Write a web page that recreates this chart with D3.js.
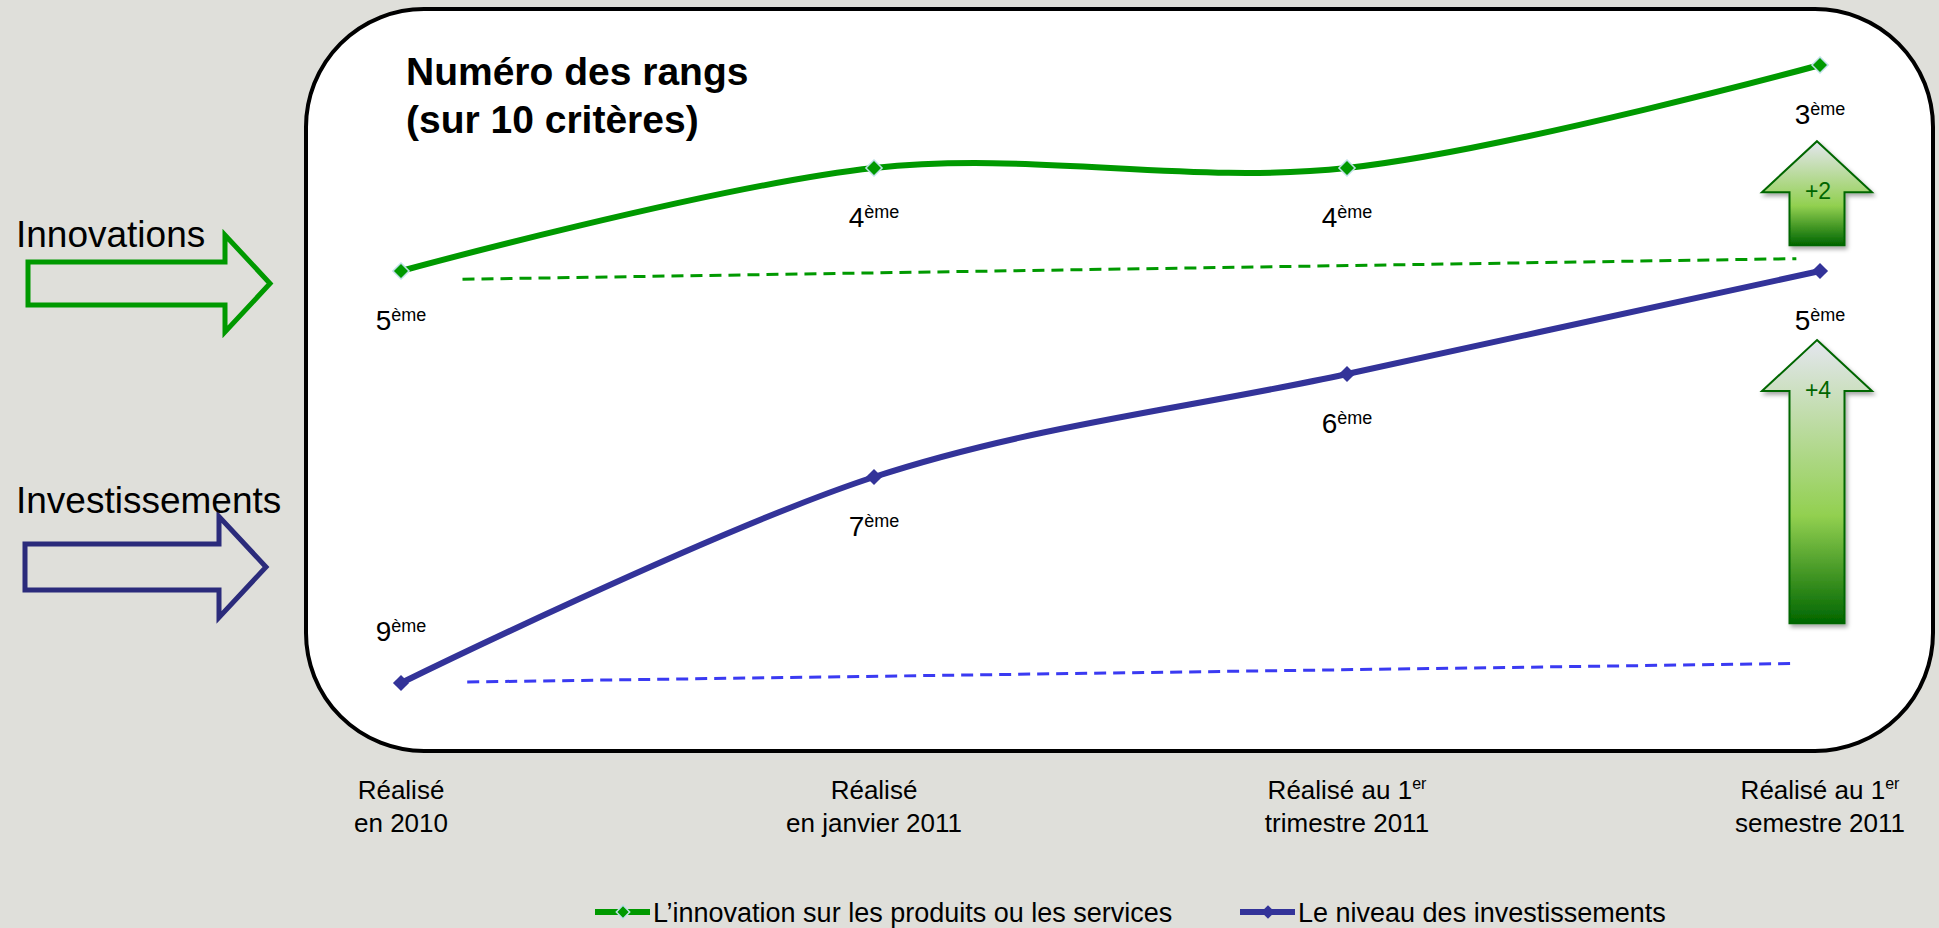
<!DOCTYPE html>
<html>
<head>
<meta charset="utf-8">
<script src="https://cdn.jsdelivr.net/npm/d3@7"></script>
<style>
  html, body { margin: 0; padding: 0; background: #dfdfda; }
  svg { display: block; }
  text { font-family: 'Liberation Sans', Arial, sans-serif; fill: #000; }
</style>
</head>
<body>
<svg id="chart" width="1939" height="928"></svg>
<script>
// categories (two lines each, ^ marks a superscript)
const categories = [
  ['Réalisé', 'en 2010'],
  ['Réalisé', 'en janvier 2011'],
  ['Réalisé au 1^er', 'trimestre 2011'],
  ['Réalisé au 1^er', 'semestre 2011']
]
const seriesNames = ["L’innovation sur les produits ou les services", 'Le niveau des investissements']
const innovationRanks = [5, 4, 4, 3]
const investmentRanks = [9, 7, 6, 5]
// dashed starting levels: [category index, rank]
const innovationBase = [[0.13, 5.08], [2.95, 4.88]]
const investmentBase = [[0.14, 8.99], [2.95, 8.81]]
// gain arrows on the last period: label, top rank, bottom rank
const gains = [
  { label: '+2', top: 3.74, bottom: 4.75 },
  { label: '+4', top: 5.67, bottom: 8.42 }
]
const sideLabels = ['Innovations', 'Investissements']

const GREEN = '#009900'
const BLUE = '#333399'

const svg = d3.select('#chart')
const x = d3.scaleLinear().domain([0, categories.length - 1]).range([401, 1820])
const y = d3.scaleLinear().domain([3, 9]).range([65, 683])

const defs = svg.append('defs')
const grad = defs.append('linearGradient')
  .attr('id', 'upGrad').attr('x1', 0).attr('y1', 0).attr('x2', 0).attr('y2', 1)
grad.append('stop').attr('offset', '0%').attr('stop-color', '#e4e6ef')
grad.append('stop').attr('offset', '62%').attr('stop-color', '#92d050')
grad.append('stop').attr('offset', '100%').attr('stop-color', '#006600')
defs.append('filter').attr('id', 'shadow')
  .attr('x', '-30%').attr('y', '-10%').attr('width', '160%').attr('height', '130%')
  .append('feDropShadow')
  .attr('dx', 2).attr('dy', 3).attr('stdDeviation', 2)
  .attr('flood-color', '#000').attr('flood-opacity', 0.35)

// rounded frame
svg.append('rect')
  .attr('x', 306).attr('y', 9).attr('width', 1627).attr('height', 742)
  .attr('rx', 118).attr('ry', 118)
  .attr('fill', '#fff').attr('stroke', '#000').attr('stroke-width', 4)

// title
const title = svg.append('text')
  .attr('x', 406).attr('y', 85)
  .style('font-size', '39px').style('font-weight', 'bold')
title.append('tspan').text('Numéro des rangs')
title.append('tspan').attr('x', 406).attr('dy', 48).text('(sur 10 critères)')

// hollow side arrows
function sideArrow (x0, xHead, xTip, yMid, bodyH, headH) {
  const b = bodyH / 2
  const h = headH / 2
  return 'M' + x0 + ',' + (yMid - b) + 'H' + xHead + 'V' + (yMid - h) +
    'L' + xTip + ',' + yMid + 'L' + xHead + ',' + (yMid + h) +
    'V' + (yMid + b) + 'H' + x0 + 'Z'
}
svg.append('path').attr('d', sideArrow(28, 225, 270, 283.5, 43, 97))
  .attr('fill', 'none').attr('stroke', GREEN).attr('stroke-width', 5)
svg.append('path').attr('d', sideArrow(25, 219, 266, 567, 46, 101))
  .attr('fill', 'none').attr('stroke', '#2b2b7b').attr('stroke-width', 5)
svg.selectAll('text.side')
  .data(sideLabels)
  .enter().append('text')
  .attr('class', 'side')
  .attr('x', 16)
  .attr('y', function (d, i) { return i === 0 ? 247 : 513 })
  .style('font-size', '37px')
  .text(function (d) { return d })

// dashed base lines
const straight = d3.line().x(function (d) { return x(d[0]) }).y(function (d) { return y(d[1]) })
svg.append('path').attr('d', straight(innovationBase))
  .attr('fill', 'none').attr('stroke', GREEN).attr('stroke-width', 3).attr('stroke-dasharray', '12,7')
svg.append('path').attr('d', straight(investmentBase))
  .attr('fill', 'none').attr('stroke', '#3a3af2').attr('stroke-width', 3).attr('stroke-dasharray', '12,7')

// gain arrows
function upArrow (cx, yTop, yBottom) {
  const headBase = yTop + 51
  return 'M' + cx + ',' + yTop + 'L' + (cx + 55) + ',' + headBase + 'H' + (cx + 27.5) +
    'V' + yBottom + 'H' + (cx - 27.5) + 'V' + headBase + 'H' + (cx - 55) + 'Z'
}
const gainG = svg.selectAll('g.gain')
  .data(gains)
  .enter().append('g')
  .attr('class', 'gain')
gainG.append('path')
  .attr('d', function (d) { return upArrow(x(3) - 3, y(d.top), y(d.bottom)) })
  .attr('fill', 'url(#upGrad)').attr('stroke', '#006600').attr('stroke-width', 2)
  .attr('filter', 'url(#shadow)')
gainG.append('text')
  .attr('x', x(3) - 2)
  .attr('y', function (d) { return y(d.top) + 58 })
  .attr('text-anchor', 'middle')
  .style('font-size', '23px').style('fill', '#006600')
  .text(function (d) { return d.label })

// series lines
const smooth = d3.line()
  .x(function (d, i) { return x(i) })
  .y(function (d) { return y(d) })
  .curve(d3.curveCardinal.tension(0))

const series = [
  { ranks: innovationRanks, color: GREEN, width: 6, marker: GREEN, outline: '#bfe0e8', above: [] },
  { ranks: investmentRanks, color: BLUE, width: 6, marker: BLUE, outline: 'none', above: [0] }
]
const diamond = d3.symbol().type(d3.symbolSquare).size(130)

series.forEach(function (s) {
  svg.append('path').attr('d', smooth(s.ranks))
    .attr('fill', 'none').attr('stroke', s.color).attr('stroke-width', s.width)
    .attr('stroke-linecap', 'round')
  svg.selectAll(null)
    .data(s.ranks)
    .enter().append('path')
    .attr('d', diamond)
    .attr('transform', function (d, i) { return 'translate(' + x(i) + ',' + y(d) + ') rotate(45)' })
    .attr('fill', s.marker).attr('stroke', s.outline).attr('stroke-width', 1.5)
  const lab = svg.selectAll(null)
    .data(s.ranks)
    .enter().append('text')
    .attr('x', function (d, i) { return x(i) })
    .attr('y', function (d, i) { return y(d) + (s.above.indexOf(i) >= 0 ? -42 : 59) })
    .attr('text-anchor', 'middle')
  lab.append('tspan').style('font-size', '28px').text(function (d) { return d })
  lab.append('tspan').style('font-size', '18px').attr('dy', -9).text('ème')
})

// category labels
const cat = svg.selectAll('g.cat')
  .data(categories)
  .enter().append('g')
  .attr('class', 'cat')
cat.each(function (lines, i) {
  const g = d3.select(this)
  lines.forEach(function (line, j) {
    const t = g.append('text')
      .attr('x', x(i))
      .attr('y', 799 + j * 33)
      .attr('text-anchor', 'middle')
      .style('font-size', '26px')
    const parts = line.split('^')
    t.append('tspan').text(parts[0])
    if (parts[1]) {
      t.append('tspan').style('font-size', '16px').attr('dy', -10).text(parts[1])
    }
  })
})

// legend
const legendX = [595, 1240]
const leg = svg.selectAll('g.legend')
  .data(seriesNames)
  .enter().append('g')
  .attr('class', 'legend')
  .attr('transform', function (d, i) { return 'translate(' + legendX[i] + ',912)' })
leg.append('line')
  .attr('x1', 0).attr('x2', 55).attr('y1', 0).attr('y2', 0)
  .attr('stroke', function (d, i) { return series[i].color })
  .attr('stroke-width', 6)
leg.append('path')
  .attr('d', d3.symbol().type(d3.symbolSquare).size(90))
  .attr('transform', 'translate(28,0) rotate(45)')
  .attr('fill', function (d, i) { return series[i].marker })
  .attr('stroke', function (d, i) { return series[i].outline })
  .attr('stroke-width', 1.5)
leg.append('text')
  .attr('x', 58).attr('y', 10)
  .style('font-size', '27px')
  .text(function (d) { return d })
</script>
</body>
</html>
